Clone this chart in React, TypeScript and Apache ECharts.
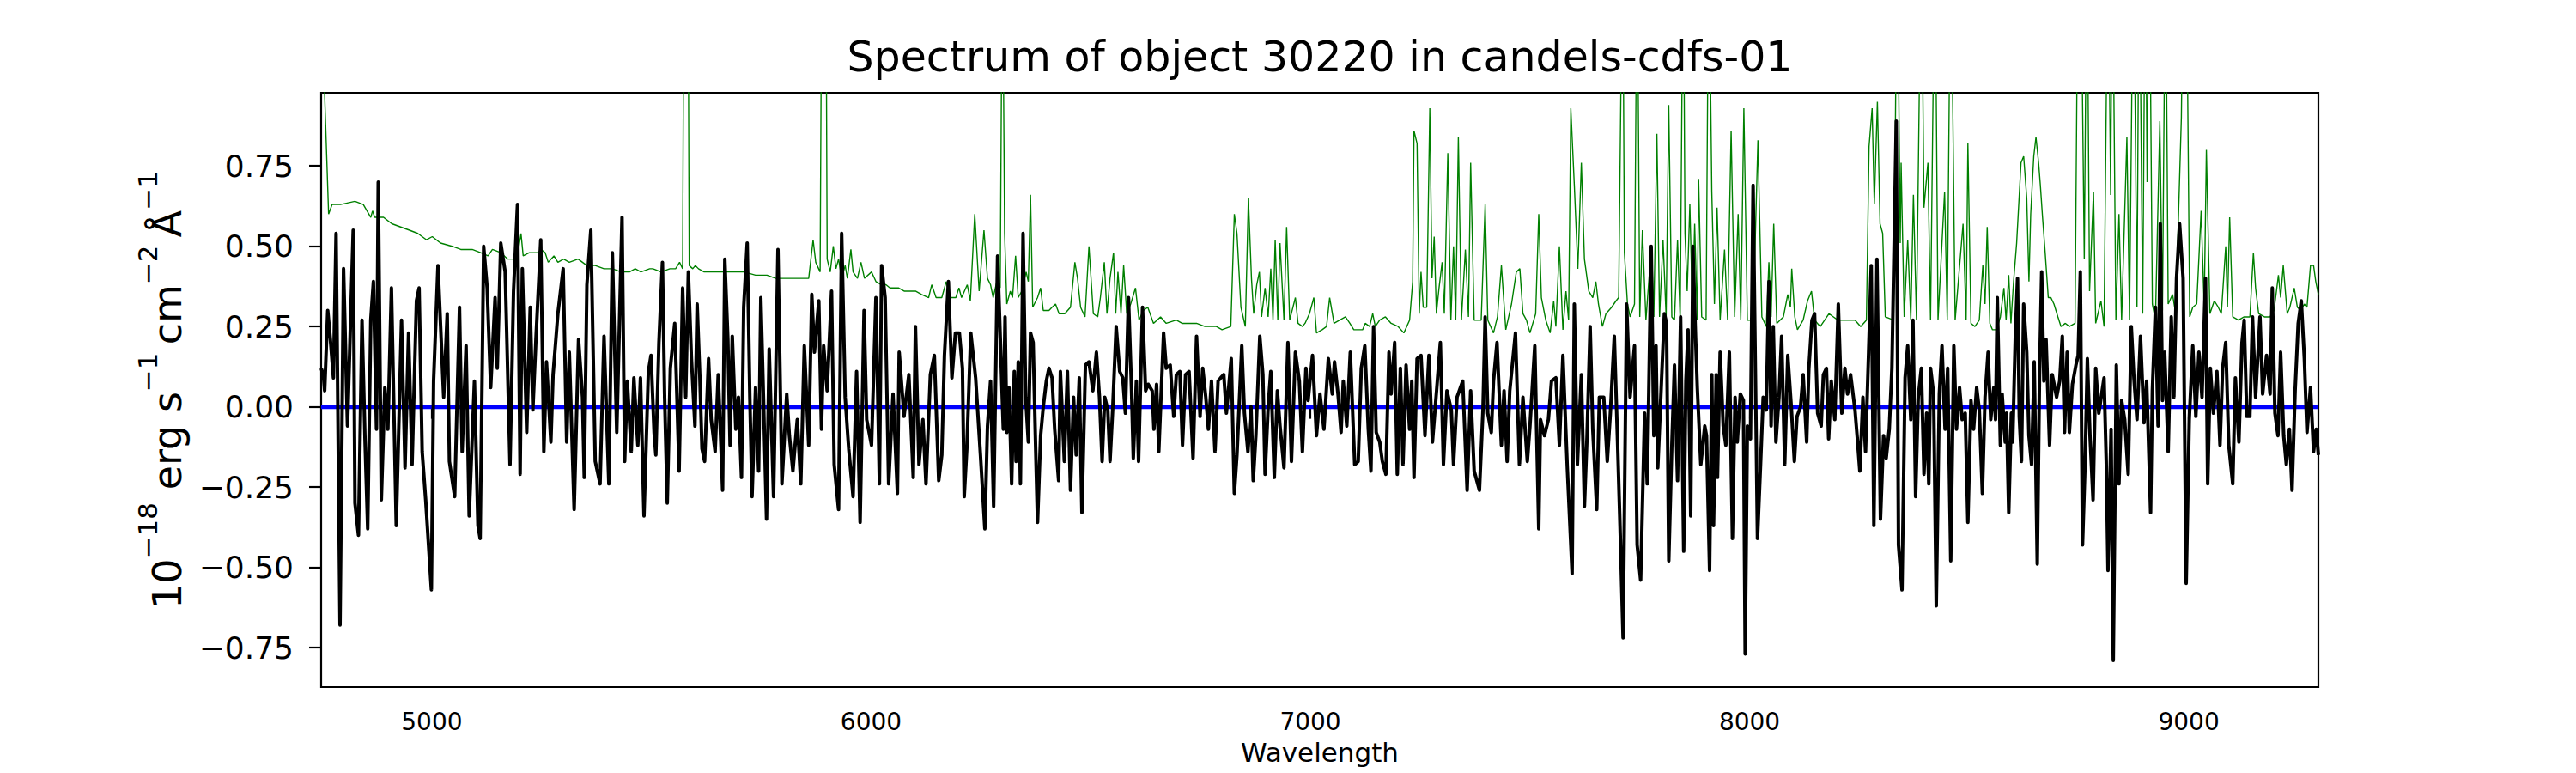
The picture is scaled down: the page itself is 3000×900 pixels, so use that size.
import React, { useEffect, useRef } from "react";
import * as echarts from "echarts";

const TITLE = "Spectrum of object 30220 in candels-cdfs-01";
const X_NAME = "Wavelength";
const X_TICKS = [5000, 6000, 7000, 8000, 9000];
const Y_TICKS = [-0.75, -0.5, -0.25, 0, 0.25, 0.5, 0.75];
const X_MIN = 4748;
const X_MAX = 9295;
const Y_MIN = -0.873;
const Y_MAX = 0.978;

// model (blue)
const modelFlux: [number, number][] = [[4748, 0], [9295, 0]];

// observed spectrum (black), blue half
const sciFluxLo: [number, number][] = [
  [4748,0.12],[4753,0.10],[4756,0.05],[4763,0.30],[4769,0.21],[4776,0.09],[4782,0.54],[4791,-0.68],[4799,0.43],[4808,-0.06],[4821,0.55],[4825,-0.30],[4833,-0.40],[4841,0.27],[4848,-0.11],[4854,-0.38],[4861,0.27],[4867,0.39],[4874,-0.07],[4878,0.70],[4885,-0.29],[4893,0.06],[4900,-0.07],[4908,0.37],[4919,-0.37],[4931,0.27],[4939,-0.19],[4947,0.23],[4955,-0.18],[4965,0.33],[4971,0.37],[4978,-0.14],[4986,-0.29],[4999,-0.57],[5004,0.08],[5014,0.44],[5027,0.03],[5035,0.29],[5040,-0.17],[5052,-0.28],[5063,0.31],[5069,-0.14],[5078,0.19],[5085,-0.34],[5097,0.08],[5105,-0.37],[5110,-0.41],[5118,0.50],[5126,0.37],[5134,0.06],[5144,0.34],[5149,0.12],[5157,0.51],[5167,0.42],[5178,-0.18],[5186,0.36],[5195,0.63],[5201,-0.21],[5206,0.43],[5216,-0.08],[5224,0.31],[5230,-0.01],[5237,0.21],[5248,0.52],[5255,-0.14],[5261,0.14],[5271,-0.11],[5276,0.10],[5287,0.29],[5299,0.43],[5307,-0.11],[5313,0.17],[5324,-0.32],[5334,0.21],[5343,0.03],[5347,-0.22],[5353,0.38],[5362,0.55],[5372,-0.17],[5383,-0.24],[5392,0.22],[5403,-0.24],[5411,0.48],[5421,-0.08],[5433,0.59],[5439,-0.17],[5445,0.08],[5454,-0.14],[5460,0.09],[5469,-0.12],[5475,0.09],[5483,-0.34],[5493,0.11],[5499,0.16],
  [5506,-0.08],[5510,-0.15],[5517,0.20],[5525,0.45],[5530,0.03],[5536,-0.30],[5543,0.12],[5553,0.26],[5563,-0.20],[5571,0.37],[5578,0.03],[5584,0.42],[5591,0.15],[5599,-0.06],[5604,0.32],[5610,0.10],[5615,-0.13],[5621,-0.17],[5630,0.15],[5636,-0.04],[5645,-0.14],[5652,0.10],[5662,-0.26],[5667,0.46],[5674,0.21],[5679,-0.12],[5684,0.22],[5692,-0.07],[5698,0.03],[5705,-0.22],[5710,0.31],[5718,0.51],[5724,0.03],[5729,-0.28],[5737,0.06],[5744,-0.20],[5749,0.34],[5755,0.03],[5762,-0.35],[5768,0.18],[5778,-0.28],[5788,0.49],[5797,-0.24],[5808,0.04],[5814,-0.09],[5822,-0.20],[5832,-0.04],[5840,-0.24],[5848,0.19],[5858,-0.12],[5865,0.35],[5871,0.17],[5881,0.33],[5887,-0.07],[5892,0.19],[5900,0.05],[5910,0.36],[5916,-0.18],[5926,-0.32],[5933,0.54],[5941,0.03],[5949,-0.13],[5959,-0.28],[5967,0.11],[5975,-0.36],[5984,0.30],[5990,-0.04],[6001,-0.12],[6011,0.34],[6019,-0.24],[6024,0.44],[6032,0.34],[6040,-0.24],[6050,0.04],[6060,-0.27],[6064,0.17],[6075,-0.03],[6086,0.10],[6096,-0.22],[6101,0.25],[6109,-0.18],[6118,-0.04],[6125,-0.24],[6135,0.10],[6144,0.16],[6154,-0.23],[6161,-0.15],[6167,0.16],[6176,0.39],[6184,0.09],[6192,0.23],[6201,0.23],[6208,0.12],[6212,-0.28],[6218,-0.13],[6227,0.23],[6238,0.09],[6249,-0.15],[6259,-0.38],[6265,-0.06],[6272,0.08],
  [6279,-0.31],[6288,0.47],[6294,0.22],[6301,-0.07],[6305,0.28],[6309,-0.08],[6314,0.06],[6320,-0.24],[6326,0.11],[6330,-0.17],[6335,0.14],[6340,-0.24],[6346,0.54],[6352,0.03],[6358,-0.11],[6363,0.23],[6369,0.20],[6374,-0.09],[6379,-0.36],[6386,-0.09],[6392,0.00],[6399,0.08],[6405,0.12],[6412,0.09],[6418,-0.07],[6427,-0.23],[6431,0.11],[6440,-0.17],[6447,0.11],[6454,-0.26],[6461,0.03],[6467,-0.15],[6474,0.09],[6480,-0.33],[6488,0.13],[6496,0.14],[6505,0.05],[6513,0.17],[6520,0.03],[6526,-0.17],[6532,0.03],[6539,-0.01],[6544,-0.17],[6550,-0.01],[6558,0.25],[6566,0.11],[6573,0.09],[6579,-0.02],[6586,0.34],[6593,0.05],[6597,-0.16],[6604,0.08],[6609,-0.17],[6618,0.31],[6625,0.05],[6631,0.07],[6640,0.05],[6644,-0.07],[6650,0.07],[6655,-0.14],[6666,0.23],[6672,0.12],[6681,0.13],[6689,-0.03],[6695,0.10],[6703,0.11],[6709,-0.12],[6716,0.10],[6724,0.11],[6733,-0.16],[6741,0.22],[6749,-0.03],[6755,0.12],[6762,0.03],[6768,-0.07],[6775,0.08],[6783,-0.14],[6790,0.08],[6796,0.09],[6803,0.10],[6809,-0.02],[6820,0.15],[6827,-0.27],[6833,-0.15],[6844,0.19],[6850,-0.02],[6858,-0.14],[6865,0.00],[6870,-0.23],[6876,-0.09],[6885,0.22],[6892,0.10],[6897,-0.21],[6904,0.00],[6910,0.11],[6918,-0.22],[6925,0.05],[6931,-0.06],[6940,-0.19],[6949,0.20],[6957,-0.17],[6966,0.17],[6975,0.08],[6982,-0.14],[6990,0.12],[6995,0.02],[7005,0.16],[7014,-0.09],[7022,0.04],[7031,-0.07],[7041,0.15],
];

// observed spectrum (black), red half
const sciFluxHi: [number, number][] = [
  [7050,0.04],[7055,0.14],[7063,0.04],[7070,-0.08],[7075,0.08],[7083,-0.06],[7091,0.17],[7101,-0.18],[7109,-0.17],[7116,0.12],[7124,0.19],[7132,-0.07],[7138,-0.20],[7144,0.25],[7150,-0.08],[7158,-0.11],[7164,-0.17],[7172,-0.21],[7179,0.17],[7184,0.04],[7192,0.20],[7198,-0.21],[7205,0.12],[7211,-0.18],[7218,0.13],[7226,-0.07],[7231,0.08],[7236,-0.22],[7243,0.15],[7252,0.16],[7261,-0.09],[7270,0.16],[7278,-0.11],[7288,0.06],[7296,0.20],[7303,-0.18],[7311,0.05],[7321,-0.01],[7326,-0.18],[7334,0.03],[7347,0.08],[7357,-0.26],[7365,0.05],[7373,-0.20],[7385,-0.26],[7393,-0.01],[7398,0.28],[7404,-0.02],[7412,-0.08],[7417,0.08],[7425,0.20],[7435,-0.12],[7441,0.05],[7448,-0.17],[7454,0.05],[7467,0.23],[7476,-0.18],[7484,0.03],[7494,-0.17],[7500,-0.06],[7511,0.19],[7520,-0.38],[7524,-0.04],[7533,-0.09],[7542,-0.04],[7549,0.08],[7559,0.09],[7567,-0.12],[7575,0.16],[7585,-0.19],[7596,-0.52],[7601,0.32],[7608,-0.18],[7617,0.10],[7624,-0.31],[7630,-0.09],[7637,0.25],[7643,-0.07],[7652,-0.32],[7658,0.03],[7668,0.03],[7676,-0.17],[7683,-0.02],[7692,0.22],[7699,-0.09],[7705,-0.37],[7712,-0.72],[7720,0.32],[7728,0.03],[7738,0.19],[7744,-0.43],[7752,-0.54],[7761,-0.02],[7767,-0.24],[7776,0.50],[7782,-0.09],[7787,0.19],[7791,-0.19],
  [7806,0.29],[7811,0.26],[7816,-0.48],[7823,-0.12],[7829,0.13],[7836,-0.23],[7843,0.28],[7850,-0.45],[7855,0.08],[7860,0.24],[7866,-0.34],[7871,0.50],[7877,0.22],[7881,0.06],[7889,-0.18],[7898,-0.06],[7902,-0.09],[7909,-0.51],[7914,0.10],[7918,-0.37],[7924,0.10],[7927,-0.22],[7933,0.17],[7940,-0.06],[7946,-0.12],[7954,0.17],[7961,-0.41],[7967,0.03],[7972,-0.11],[7979,0.04],[7986,0.02],[7990,-0.77],[7995,-0.06],[8002,-0.10],[8008,0.69],[8018,-0.41],[8025,-0.18],[8031,0.03],[8038,-0.01],[8044,0.39],[8049,-0.06],[8054,0.25],[8060,-0.11],[8067,0.03],[8073,0.22],[8080,-0.18],[8087,0.16],[8095,0.00],[8102,-0.17],[8108,-0.03],[8116,0.00],[8122,0.10],[8130,-0.11],[8135,0.12],[8142,0.27],[8148,0.29],[8155,-0.02],[8163,-0.06],[8168,0.10],[8175,0.12],[8180,-0.10],[8186,0.08],[8194,-0.04],[8202,0.32],[8210,-0.02],[8217,0.12],[8223,0.04],[8230,0.10],[8240,-0.01],[8246,-0.11],[8251,-0.20],[8258,0.03],[8264,-0.14],[8271,0.17],[8277,0.44],[8283,-0.37],[8290,0.46],[8298,-0.35],[8305,-0.09],[8311,-0.16],[8318,-0.07],[8324,0.12],[8334,0.89],[8339,-0.43],[8347,-0.57],[8354,0.09],[8360,0.19],[8367,-0.04],[8372,0.27],[8378,-0.28],[8384,0.03],[8391,0.12],[8397,-0.21],[8403,-0.02],[8408,-0.24],[8412,0.12],[8419,0.04],[8425,-0.62],[8432,0.04],[8438,0.19],[8445,-0.07],[8451,0.12],[8458,-0.48],[8465,0.19],[8471,-0.07],[8478,0.06],[8484,-0.04],[8491,-0.02],[8497,-0.36],[8504,0.02],[8510,-0.07],[8517,0.06],[8523,-0.01],[8530,-0.27],[8536,0.03],[8543,0.17],[8549,-0.04],
  [8556,0.06],[8560,-0.04],[8564,0.34],[8571,-0.12],[8575,0.04],[8582,-0.11],[8585,-0.02],[8590,-0.33],[8596,-0.02],[8599,-0.11],[8605,0.22],[8610,0.40],[8614,-0.03],[8619,-0.17],[8624,0.32],[8631,0.17],[8636,-0.09],[8642,-0.18],[8648,0.14],[8655,-0.49],[8660,0.09],[8665,0.42],[8670,0.08],[8675,0.21],[8683,-0.12],[8689,0.10],[8699,0.03],[8706,0.08],[8712,0.22],[8717,-0.08],[8723,0.17],[8728,-0.08],[8735,0.07],[8743,0.13],[8748,0.16],[8753,0.42],[8758,-0.43],[8764,-0.17],[8769,0.15],[8775,-0.09],[8782,-0.29],[8788,0.12],[8795,-0.02],[8807,0.09],[8812,-0.17],[8816,-0.51],[8823,-0.07],[8828,-0.79],[8835,0.13],[8841,-0.24],[8847,0.02],[8854,-0.04],[8862,-0.21],[8869,0.25],[8875,0.09],[8882,-0.04],[8890,0.22],[8898,-0.05],[8904,0.08],[8913,-0.33],[8917,0.05],[8924,0.31],[8930,-0.06],[8935,0.57],[8940,0.02],[8945,0.17],[8953,-0.14],[8960,0.28],[8966,0.03],[8972,0.40],[8979,0.57],[8987,0.40],[8994,-0.55],[9001,-0.04],[9009,0.19],[9016,-0.03],[9023,0.17],[9030,0.03],[9038,0.40],[9043,-0.24],[9049,0.12],[9056,-0.02],[9064,0.11],[9071,-0.12],[9077,0.12],[9084,0.20],[9091,-0.12],[9100,-0.24],[9106,0.09],[9114,-0.11],[9121,0.20],[9126,0.27],[9132,-0.03],[9139,-0.03],[9145,0.28],[9152,0.03],[9162,0.28],[9168,0.04],[9177,0.16],[9185,0.04],[9190,0.37],[9196,-0.02],[9203,-0.09],[9209,0.17],[9216,-0.09],[9222,-0.18],[9229,-0.07],[9235,-0.26],[9242,0.05],[9249,0.26],[9256,0.33],[9263,0.15],[9269,-0.08],[9277,0.06],[9284,-0.14],[9290,-0.07],[9295,-0.15],
];

// sky / noise (green), blue half
const skyLo: [number, number][] = [
  [4748,1.3],[4765,0.60],[4773,0.63],[4792,0.63],[4825,0.64],[4844,0.63],[4861,0.59],[4865,0.61],[4870,0.59],[4890,0.59],[4909,0.57],[4929,0.56],[4949,0.55],[4968,0.54],[4988,0.52],[5001,0.53],[5020,0.51],[5046,0.50],[5066,0.49],[5092,0.49],[5111,0.48],[5128,0.47],[5138,0.49],[5157,0.48],[5173,0.46],[5186,0.46],[5196,0.48],[5203,0.54],[5208,0.47],[5222,0.48],[5229,0.48],[5242,0.48],[5248,0.49],[5258,0.48],[5265,0.45],[5278,0.47],[5287,0.45],[5300,0.46],[5313,0.45],[5333,0.46],[5353,0.44],[5372,0.44],[5392,0.43],[5411,0.43],[5431,0.42],[5450,0.42],[5463,0.43],[5476,0.42],[5496,0.43],
  [5503,0.43],[5522,0.42],[5542,0.43],[5555,0.43],[5564,0.45],[5571,0.43],[5574,1.5],[5583,1.5],[5586,0.44],[5594,0.43],[5600,0.44],[5607,0.43],[5620,0.42],[5633,0.42],[5659,0.42],[5685,0.42],[5711,0.42],[5737,0.41],[5763,0.41],[5783,0.40],[5802,0.40],[5828,0.40],[5858,0.40],[5868,0.52],[5874,0.45],[5884,0.42],[5888,1.5],[5897,1.5],[5900,0.46],[5907,0.42],[5914,0.50],[5920,0.43],[5926,0.46],[5933,0.40],[5941,0.44],[5946,0.40],[5954,0.49],[5959,0.42],[5969,0.40],[5977,0.45],[5985,0.40],[6001,0.42],[6011,0.39],[6024,0.38],[6034,0.38],[6043,0.37],[6063,0.37],[6076,0.36],[6089,0.36],[6102,0.36],[6115,0.35],[6131,0.34],[6138,0.38],[6148,0.34],[6161,0.34],[6171,0.39],[6180,0.34],[6193,0.34],[6200,0.37],[6206,0.34],[6219,0.38],[6226,0.33],[6236,0.60],[6246,0.36],[6257,0.55],[6265,0.40],
  [6272,0.38],[6278,0.34],[6288,0.40],[6294,0.37],[6299,1.5],[6304,0.54],[6309,0.32],[6317,0.36],[6322,0.34],[6329,0.47],[6335,0.34],[6343,0.36],[6353,0.42],[6358,0.39],[6363,0.66],[6368,0.31],[6379,0.34],[6386,0.37],[6392,0.30],[6405,0.30],[6412,0.31],[6420,0.32],[6428,0.29],[6441,0.29],[6454,0.31],[6464,0.45],[6470,0.40],[6477,0.31],[6487,0.28],[6496,0.50],[6506,0.29],[6516,0.28],[6522,0.34],[6531,0.45],[6537,0.29],[6544,0.40],[6552,0.48],[6557,0.29],[6562,0.42],[6569,0.29],[6575,0.44],[6582,0.29],[6591,0.32],[6602,0.37],[6610,0.27],[6620,0.30],[6630,0.31],[6643,0.26],[6659,0.28],[6672,0.26],[6695,0.27],[6708,0.26],[6728,0.26],[6741,0.26],[6760,0.25],[6786,0.25],[6799,0.24],[6819,0.25],[6827,0.60],[6833,0.54],[6842,0.31],[6852,0.25],[6859,0.65],[6866,0.40],[6871,0.29],[6878,0.38],[6884,0.42],[6889,0.28],[6897,0.37],[6904,0.28],[6910,0.43],[6915,0.27],[6920,0.52],[6926,0.27],[6931,0.51],[6940,0.27],[6946,0.56],[6953,0.27],[6966,0.34],[6972,0.26],[6982,0.25],[6988,0.26],[6998,0.29],[7008,0.34],[7014,0.23],[7027,0.24],
];

// sky / noise (green), red half
const skyHi: [number, number][] = [
  [7037,0.25],[7044,0.34],[7054,0.26],[7067,0.27],[7080,0.28],[7090,0.26],[7099,0.24],[7119,0.24],[7125,0.26],[7135,0.25],[7142,0.29],[7148,0.25],[7158,0.27],[7171,0.28],[7184,0.26],[7200,0.25],[7213,0.23],[7226,0.27],[7233,0.39],[7236,0.86],[7243,0.82],[7248,0.29],[7252,0.42],[7257,0.31],[7265,0.31],[7272,0.93],[7277,0.40],[7282,0.53],[7287,0.29],[7293,0.37],[7300,0.45],[7305,0.29],[7313,0.79],[7320,0.27],[7326,0.50],[7331,0.27],[7337,0.84],[7344,0.27],[7353,0.49],[7360,0.28],[7365,0.76],[7373,0.27],[7389,0.27],[7398,0.63],[7404,0.27],[7417,0.23],[7426,0.28],[7435,0.44],[7445,0.24],[7458,0.32],[7469,0.42],[7477,0.43],[7484,0.29],[7492,0.27],[7500,0.23],[7513,0.29],[7520,0.60],[7526,0.34],[7536,0.27],[7546,0.23],[7554,0.33],[7559,0.25],[7567,0.50],[7575,0.24],[7582,0.36],[7588,0.27],[7593,0.93],[7601,0.69],[7609,0.43],[7617,0.76],[7624,0.46],[7634,0.36],[7643,0.34],[7650,0.39],[7656,0.32],[7665,0.25],[7673,0.29],[7686,0.31],[7696,0.33],[7702,0.34],[7711,1.5],[7715,0.48],[7722,0.32],[7728,0.28],[7738,0.32],[7744,1.5],[7750,0.28],[7756,0.55],[7764,0.27],[7771,0.40],[7777,0.49],[7782,0.28],[7789,0.85],[7795,0.28],
  [7803,0.52],[7810,0.28],[7816,0.94],[7823,0.28],[7829,0.27],[7836,0.52],[7842,0.27],[7849,1.5],[7853,0.54],[7858,0.36],[7864,0.63],[7870,0.30],[7875,0.57],[7881,0.27],[7884,0.71],[7891,0.28],[7901,0.27],[7907,1.5],[7914,0.67],[7920,0.32],[7926,0.62],[7933,0.27],[7943,0.49],[7950,0.27],[7958,0.86],[7966,0.28],[7974,0.60],[7980,0.27],[7987,0.93],[7995,0.27],[8008,0.27],[8019,0.83],[8028,0.28],[8038,0.25],[8044,0.45],[8049,0.28],[8055,0.57],[8062,0.26],[8077,0.28],[8087,0.35],[8093,0.31],[8096,0.43],[8103,0.28],[8109,0.24],[8122,0.27],[8132,0.33],[8141,0.36],[8148,0.27],[8161,0.25],[8181,0.29],[8191,0.28],[8201,0.27],[8220,0.27],[8240,0.27],[8253,0.25],[8266,0.27],[8272,0.81],[8279,0.93],[8284,0.63],[8291,0.95],[8297,0.57],[8303,0.54],[8309,0.28],[8328,0.27],[8336,1.5],[8343,0.51],[8345,0.76],[8352,0.28],[8360,0.52],[8367,0.27],[8373,0.66],[8380,0.27],[8391,1.5],[8397,0.62],[8406,0.76],[8412,0.27],[8422,1.5],[8429,0.27],[8444,0.67],[8450,0.27],[8458,1.5],[8468,0.27],[8486,0.57],[8493,0.27],[8497,0.82],[8504,0.26],[8513,0.25],[8523,0.27],[8531,0.44],[8536,0.32],[8541,0.56],[8547,0.26],
  [8553,0.24],[8562,0.24],[8571,0.28],[8579,0.37],[8584,0.27],[8590,0.41],[8595,0.26],[8601,0.39],[8608,0.51],[8618,0.76],[8624,0.78],[8631,0.65],[8636,0.39],[8640,0.60],[8647,0.78],[8652,0.84],[8658,0.76],[8662,0.69],[8667,0.59],[8673,0.48],[8680,0.34],[8686,0.34],[8693,0.32],[8702,0.28],[8709,0.25],[8719,0.26],[8728,0.25],[8741,0.26],[8748,1.5],[8756,1.2],[8762,0.46],[8768,1.5],[8774,0.36],[8783,0.67],[8788,0.26],[8800,0.33],[8807,0.25],[8816,1.5],[8822,0.66],[8826,1.5],[8834,0.27],[8841,0.60],[8847,0.27],[8859,0.84],[8865,0.27],[8874,1.5],[8882,0.31],[8887,1.5],[8895,0.29],[8901,1.5],[8905,0.7],[8910,1.5],[8917,0.32],[8924,0.27],[8934,0.89],[8940,0.30],[8947,1.5],[8953,0.32],[8963,0.35],[8970,0.29],[8983,0.90],[8988,1.5],[8994,1.5],[9002,0.28],[9009,0.31],[9018,0.32],[9028,0.61],[9035,0.31],[9040,0.80],[9048,0.29],[9058,0.33],[9067,0.31],[9074,0.29],[9084,0.50],[9088,0.31],[9093,0.59],[9100,0.28],[9113,0.27],[9126,0.28],[9139,0.28],[9147,0.48],[9152,0.37],[9159,0.29],[9172,0.28],[9185,0.28],[9194,0.30],[9204,0.41],[9209,0.34],[9215,0.44],[9224,0.29],[9230,0.31],[9240,0.37],[9247,0.31],[9255,0.30],[9263,0.32],[9269,0.31],[9277,0.44],[9284,0.44],[9289,0.39],[9295,0.35],
];

const FONT = "DejaVu Sans";

export default function App() {
  const ref = useRef<HTMLDivElement>(null);
  useEffect(() => {
    if (!ref.current) return;
    const chart = echarts.init(ref.current, null, { renderer: "svg" });
    chart.setOption({
      animation: false,
      backgroundColor: "#ffffff",
      grid: {
        left: 374,
        right: 300,
        top: 108,
        bottom: 100,
        show: true,
        borderColor: "#000000",
        borderWidth: 2.2,
        backgroundColor: "transparent",
        containLabel: false,
      },
      graphic: [
        {
          type: "text",
          x: 1537,
          y: 66,
          style: {
            text: TITLE,
            fontSize: 49,
            fontFamily: FONT,
            fill: "#000000",
            align: "center",
            verticalAlign: "middle",
          },
        },
      ],
      xAxis: {
        type: "value",
        min: X_MIN,
        max: X_MAX,
        name: X_NAME,
        nameLocation: "middle",
        nameGap: 60,
        nameTextStyle: { fontSize: 31, color: "#000000", fontFamily: FONT },
        axisLine: { show: false },
        splitLine: { show: false },
        axisTick: {
          show: true,
          customValues: X_TICKS,
          length: 14,
          lineStyle: { color: "#000000", width: 2.2 },
        },
        axisLabel: {
          customValues: X_TICKS,
          fontSize: 28,
          color: "#000000",
          fontFamily: FONT,
          margin: 26,
          formatter: (v: number) => String(v),
        },
      },
      yAxis: {
        type: "value",
        min: Y_MIN,
        max: Y_MAX,
        name: "{b|10}{s|\u221218}{b| erg s}{s|\u22121}{b|\u2009cm}{s|\u22122}{b|\u2009\u00c5}{s|\u22121}",
        nameLocation: "middle",
        nameRotate: 90,
        nameGap: 156,
        nameTextStyle: {
          color: "#000000",
          rich: {
            b: { fontSize: 46, fontFamily: FONT, color: "#000000", verticalAlign: "bottom", lineHeight: 62 },
            s: { fontSize: 31, fontFamily: FONT, color: "#000000", verticalAlign: "top", lineHeight: 31 },
          },
        },
        axisLine: { show: false },
        splitLine: { show: false },
        axisTick: {
          show: true,
          customValues: Y_TICKS,
          length: 14,
          lineStyle: { color: "#000000", width: 2.2 },
        },
        axisLabel: {
          customValues: Y_TICKS,
          fontSize: 36,
          color: "#000000",
          fontFamily: FONT,
          margin: 32,
          formatter: (v: number) => (v < 0 ? "\u2212" : "") + Math.abs(v).toFixed(2),
        },
      },
      series: [
        {
          type: "line",
          name: "sky",
          data: [...skyLo, ...skyHi],
          showSymbol: false,
          symbol: "none",
          clip: true,
          z: 2,
          lineStyle: { color: "#008000", width: 1.4 },
        },
        {
          type: "line",
          name: "model",
          data: modelFlux,
          showSymbol: false,
          symbol: "none",
          clip: true,
          z: 3,
          lineStyle: { color: "#0000ff", width: 5 },
        },
        {
          type: "line",
          name: "flux",
          data: [...sciFluxLo, ...sciFluxHi],
          showSymbol: false,
          symbol: "none",
          clip: true,
          z: 4,
          lineStyle: { color: "#000000", width: 4, join: "round" },
        },
      ],
    });
    return () => chart.dispose();
  }, []);
  return (
    <div
      ref={ref}
      style={{ position: "fixed", left: 0, top: 0, width: 3000, height: 900, background: "#ffffff" }}
    />
  );
}
